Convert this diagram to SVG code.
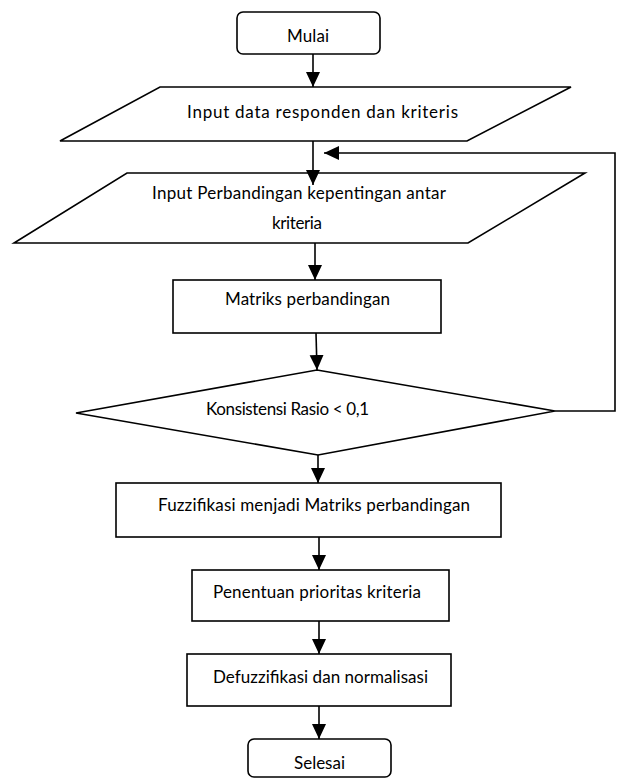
<svg xmlns="http://www.w3.org/2000/svg" width="619" height="781" viewBox="0 0 619 781">
<style>
.s{fill:#fff;stroke:#000;stroke-width:1.6}
.c{fill:none;stroke:#000;stroke-width:1.6}
text{font-family:Lato,"Open Sans","Liberation Sans",sans-serif;font-size:17px;fill:#000}
</style>
<defs>
<marker id="ah" markerUnits="userSpaceOnUse" markerWidth="16" markerHeight="16" viewBox="0 0 16 16" refX="15" refY="8" orient="auto">
<path d="M0,1 L15,8 L0,15 Z" fill="#000"/>
</marker>
</defs>
<rect width="619" height="781" fill="#fff"/>
<g id="mulai">
<rect class="s" x="237" y="12" width="143" height="42" rx="6"/>
<text x="287" y="42" textLength="42">Mulai</text>
</g>
<g id="input1">
<polygon class="s" points="160,87 571,87 467,141 60,141"/>
<text x="187" y="118" textLength="271">Input data responden dan kriteris</text>
</g>
<g id="input2">
<polygon class="s" points="127,173 585,173 468,243 14,243"/>
<text x="152" y="199" textLength="294">Input Perbandingan kepentingan antar</text>
<text x="272" y="229" textLength="50">kriteria</text>
</g>
<g id="matriks">
<rect class="s" x="173" y="280" width="268" height="53"/>
<text x="225" y="305" textLength="165">Matriks perbandingan</text>
</g>
<g id="konsistensi">
<polygon class="s" points="317,370 555,411 318,455 76,413"/>
<text x="206" y="415" textLength="163">Konsistensi Rasio &lt; 0,1</text>
</g>
<g id="fuzzifikasi">
<rect class="s" x="116" y="483" width="385" height="54"/>
<text x="158" y="511" textLength="312">Fuzzifikasi menjadi Matriks perbandingan</text>
</g>
<g id="penentuan">
<rect class="s" x="192" y="570" width="257" height="51"/>
<text x="213" y="598" textLength="208">Penentuan prioritas kriteria</text>
</g>
<g id="defuzzifikasi">
<rect class="s" x="187" y="654" width="264" height="52"/>
<text x="213" y="683" textLength="215">Defuzzifikasi dan normalisasi</text>
</g>
<g id="selesai">
<rect class="s" x="248" y="739" width="143" height="38" rx="6"/>
<text x="294" y="769" textLength="51">Selesai</text>
</g>
<g id="connectors">
<line class="c" x1="313" y1="54" x2="313" y2="87" marker-end="url(#ah)"/>
<line class="c" x1="313" y1="141" x2="313" y2="185" marker-end="url(#ah)"/>
<polyline class="c" points="555,411 615,411 615,153 324,153" marker-end="url(#ah)"/>
<line class="c" x1="315" y1="243" x2="315" y2="280" marker-end="url(#ah)"/>
<line class="c" x1="316" y1="333" x2="317" y2="370" marker-end="url(#ah)"/>
<line class="c" x1="318" y1="455" x2="318" y2="483" marker-end="url(#ah)"/>
<line class="c" x1="319" y1="537" x2="319" y2="570" marker-end="url(#ah)"/>
<line class="c" x1="319" y1="621" x2="319" y2="654" marker-end="url(#ah)"/>
<line class="c" x1="319" y1="706" x2="319" y2="739" marker-end="url(#ah)"/>
</g>
</svg>
